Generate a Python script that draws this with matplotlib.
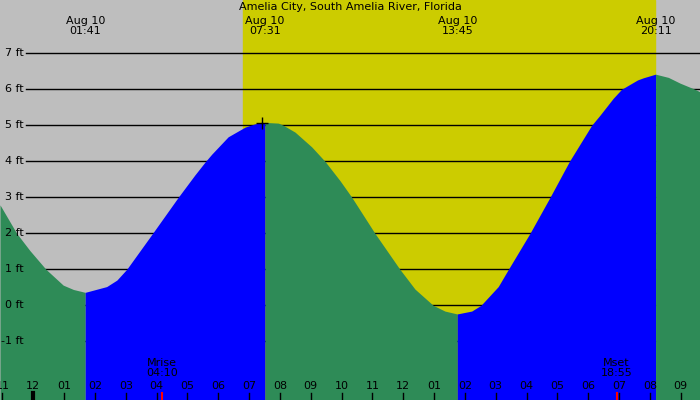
import numpy as np
import matplotlib
matplotlib.use("Agg")
import matplotlib.pyplot as plt

# tide height (hours after midnight Aug 10, feet)
curve_hours = [-1.08, -0.54, -0.11, 0.41, 0.97, 1.30, 1.683, 2.38, 2.71, 3.03, 3.87,
               4.70, 5.24, 5.59, 5.79, 6.32, 6.87, 7.19, 7.517, 7.95, 8.11, 8.49,
               9.03, 9.46, 9.95, 10.33, 11.08, 11.89, 12.38, 12.97, 13.35, 13.75,
               14.22, 14.52, 15.08, 15.41, 16.11, 16.76, 17.39, 18.11, 18.38, 18.81,
               19.08, 19.6, 19.79, 20.183, 20.6, 20.98, 21.46, 21.625]
curve_ft = [2.79, 2.0, 1.52, 1.0, 0.56, 0.44, 0.36, 0.52, 0.70, 1.0, 2.0,
            3.0, 3.62, 4.0, 4.2, 4.68, 4.95, 5.04, 5.08, 5.06, 5.0, 4.81,
            4.40, 4.0, 3.46, 3.0, 2.0, 1.0, 0.45, 0.0, -0.16, -0.24,
            -0.16, 0.0, 0.52, 1.0, 2.0, 3.0, 4.0, 5.0, 5.28, 5.75,
            6.0, 6.26, 6.32, 6.42, 6.33, 6.17, 6.0, 5.93]

# high / low tides
event_times = ["01:41", "07:31", "13:45", "20:11"]
event_date = "Aug 10"

sunrise = "06:49"
sunset = "20:10"
moon_events = [("Mrise", "04:10"), ("Mset", "18:55")]
marker_point = (7.41, 5.07)

title = "Amelia City, South Amelia River, Florida"
ft_levels = [-1, 0, 1, 2, 3, 4, 5, 6, 7]
hour_ticks = list(range(-1, 22))

x_min, x_max = -1.08, 21.625
y_min, y_max = -2.63, 8.48

gray = "#bebebe"
yellow = "#cccc00"
green = "#2e8b57"
blue = "#0000ff"


def to_hours(s):
    hh, mm = s.split(":")
    return int(hh) + int(mm) / 60


fig = plt.figure(figsize=(7, 4), dpi=100)
ax = fig.add_axes([0, 0, 1, 1])
ax.set_xlim(x_min, x_max)
ax.set_ylim(y_min, y_max)
ax.set_facecolor(gray)
ax.axis("off")
fig.patch.set_facecolor(gray)

# daylight
ax.axvspan(to_hours(sunrise), to_hours(sunset), color=yellow, zorder=0)

# depth lines behind the water
for lv in ft_levels:
    ax.axhline(lv, xmin=0.037, xmax=1, color="black", lw=1, zorder=1)

h = np.array(curve_hours)
f = np.array(curve_ft)
bounds = [x_min] + [to_hours(t) for t in event_times] + [x_max]
for a, b in zip(bounds[:-1], bounds[1:]):
    m = (h >= a - 0.01) & (h <= b + 0.01)
    col = blue if f[m][-1] > f[m][0] else green
    ax.fill_between(h[m], f[m], y_min, color=col, lw=0, zorder=2)

ax.plot(*marker_point, marker="+", color="black", ms=8, mew=1, zorder=3)

for lv in ft_levels:
    ax.text(0.034, lv, f"{lv} ft", transform=ax.get_yaxis_transform(),
            ha="right", va="center", fontsize=8, zorder=4)

trans = ax.get_xaxis_transform()
for t in event_times:
    ax.text(to_hours(t), 0.935, f"{event_date}\n{t}", transform=trans,
            ha="center", va="center", fontsize=8, linespacing=0.95, zorder=4)

ax.text(0.5, 0.983, title, transform=ax.transAxes, ha="center", va="center",
        fontsize=8, zorder=4)

for hr in hour_ticks:
    lab = f"{(hr % 12) or 12:02d}" if (hr % 12) else "12"
    ax.text(hr, 0.035, lab, transform=trans, ha="center", va="center",
            fontsize=8, zorder=4)
    lw = 3 if hr % 24 == 0 else 1
    ax.plot([hr, hr], [0, 0.018], transform=trans, color="black", lw=lw, zorder=4)

for name, t in moon_events:
    ax.text(to_hours(t), 0.08, f"{name}\n{t}", transform=trans,
            ha="center", va="center", fontsize=8, linespacing=0.95, zorder=4)
    ax.plot([to_hours(t)] * 2, [0, 0.018], transform=trans, color="red", lw=1.5, zorder=5)

fig.savefig("out.png", dpi=100, facecolor=gray)
